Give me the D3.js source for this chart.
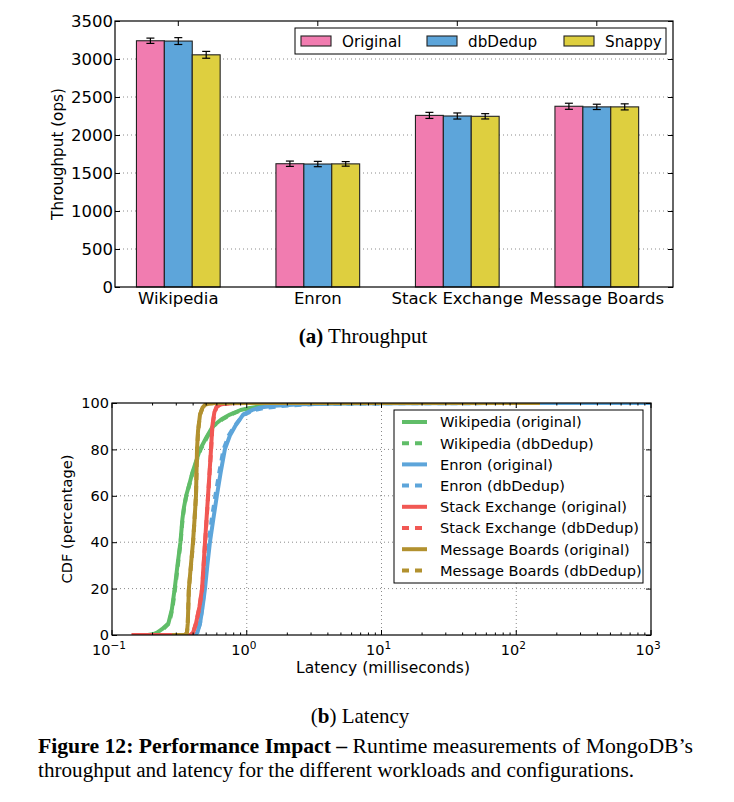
<!DOCTYPE html>
<html><head><meta charset="utf-8">
<script src="https://cdn.jsdelivr.net/npm/d3@7"></script>
<style>body{margin:0;background:#fff}svg{display:block}</style>
</head><body><svg id="c" width="734" height="802"></svg>
<script>
// ---------- (a) Throughput data ----------
const categories = ["Wikipedia", "Enron", "Stack Exchange", "Message Boards"];
const configs = ["Original", "dbDedup", "Snappy"];
const originalOps = [3240, 1622, 2258, 2378];
const dbdedupOps = [3236, 1618, 2250, 2370];
const snappyOps = [3055, 1620, 2246, 2370];
const originalErr = [35, 35, 40, 40];
const dbdedupErr = [45, 35, 40, 35];
const snappyErr = [45, 30, 35, 40];
const throughputTicks = [0, 500, 1000, 1500, 2000, 2500, 3000, 3500];
const barColors = ["#F17CB0", "#5DA5DA", "#DECF3F"];

// ---------- (b) Latency data ----------
const wikiOrigMs  = [0.16, 0.185, 0.205, 0.216, 0.235, 0.262, 0.278, 0.292, 0.306, 0.322, 0.333, 0.342, 0.355, 0.375, 0.395, 0.427, 0.45, 0.5, 0.56, 0.65, 0.75, 0.9, 1.09, 1.4, 1.8, 2.5, 4.2, 8, 30];
const wikiOrigCdf = [0, 0, 0.5, 1, 2.5, 5, 11, 20, 30, 40, 50, 55, 60, 65, 70, 76, 80, 85, 90, 93, 95, 97, 98, 98.8, 99.3, 99.7, 99.9, 100, 100];
const wikiDedupMs  = [0.16, 0.19, 0.21, 0.222, 0.24, 0.265, 0.28, 0.294, 0.308, 0.323, 0.334, 0.343, 0.356, 0.376, 0.397, 0.43, 0.455, 0.505, 0.565, 0.66, 0.76, 0.92, 1.1, 1.4, 1.8, 2.6, 4.5, 9, 30];
const wikiDedupCdf = [0, 0, 0.5, 1, 2.5, 5, 11, 20, 30, 40, 50, 55, 60, 65, 70, 76, 80, 85, 90, 93, 95, 97, 98, 98.8, 99.3, 99.7, 99.9, 100, 100];
const enronOrigMs  = [0.38, 0.41, 0.43, 0.45, 0.47, 0.49, 0.51, 0.533, 0.565, 0.6, 0.64, 0.688, 0.75, 0.82, 0.94, 1.1, 1.25, 1.6, 2.5, 5, 20, 100, 1000];
const enronOrigCdf = [0, 0, 1, 5, 12, 20, 30, 40, 50, 60, 70, 80, 86, 90, 95, 97, 98, 98.8, 99.5, 99.8, 99.9, 100, 100];
const enronDedupMs  = [0.38, 0.41, 0.43, 0.45, 0.468, 0.485, 0.503, 0.522, 0.55, 0.585, 0.625, 0.672, 0.735, 0.81, 0.95, 1.15, 1.4, 1.9, 3, 6, 25, 120, 1000];
const enronDedupCdf = [0, 0, 1, 5, 12, 20, 30, 40, 50, 60, 70, 80, 86, 90, 95, 97, 98, 98.8, 99.5, 99.8, 99.9, 100, 100];
const stackOrigMs  = [0.14, 0.38, 0.4, 0.42, 0.445, 0.466, 0.49, 0.516, 0.543, 0.555, 0.575, 0.6, 0.65, 0.75, 1.0, 2.0];
const stackOrigCdf = [0, 0, 1, 5, 12, 20, 40, 60, 80, 90, 96, 98.5, 99.5, 99.9, 100, 100];
const stackDedupMs  = [0.14, 0.38, 0.4, 0.42, 0.446, 0.467, 0.491, 0.517, 0.544, 0.556, 0.577, 0.6, 0.65, 0.75, 1.0, 2.0];
const stackDedupCdf = [0, 0, 1, 5, 12, 20, 40, 60, 80, 90, 96, 98.5, 99.5, 99.9, 100, 100];
const msgOrigMs  = [0.28, 0.35, 0.36, 0.365, 0.372, 0.385, 0.399, 0.41, 0.42, 0.4275, 0.435, 0.45, 0.47, 0.49, 0.52, 0.6, 1, 10, 150];
const msgOrigCdf = [0, 0, 1, 5, 20, 30, 40, 50, 60, 80, 88, 95, 98, 99.2, 99.8, 100, 100, 100, 100];
const msgDedupMs  = [0.28, 0.35, 0.36, 0.365, 0.372, 0.386, 0.4, 0.41, 0.42, 0.428, 0.436, 0.45, 0.47, 0.49, 0.52, 0.6, 1, 10, 150];
const msgDedupCdf = [0, 0, 1, 5, 20, 30, 40, 50, 60, 80, 88, 95, 98, 99.2, 99.8, 100, 100, 100, 100];
const latencyLabels = ["Wikipedia (original)", "Wikipedia (dbDedup)", "Enron (original)", "Enron (dbDedup)",
  "Stack Exchange (original)", "Stack Exchange (dbDedup)", "Message Boards (original)", "Message Boards (dbDedup)"];
const latencyColors = ["#60BD68", "#60BD68", "#5DA5DA", "#5DA5DA", "#F15854", "#F15854", "#B2912F", "#B2912F"];
const latencyDashed = [false, true, false, true, false, true, false, true];
const cdfTicks = [0, 20, 40, 60, 80, 100];
const latencyMajor = [0.1, 1, 10, 100, 1000];
const latencyExp = ["\u22121", "0", "1", "2", "3"];

const FONT = "DejaVu Sans, sans-serif";
const svg = d3.select("#c");
svg.append("rect").attr("width", 734).attr("height", 802).attr("fill", "#fff");

// =============== (a) Throughput ===============
{
  const X0 = 115, X1 = 673, Y0 = 21, Y1 = 287;
  const g = svg.append("g");
  const x = d3.scaleBand().domain(categories).range([108.55, 666.55]).paddingInner(0.4).paddingOuter(0.2);
  const xi = d3.scaleBand().domain(configs).range([0, x.bandwidth()]);
  const y = d3.scaleLinear().domain([0, 3500]).range([Y1, Y0]);

  g.append("g").selectAll("line").data(throughputTicks.filter(d => d > 0 && d < 3500)).join("line")
    .attr("x1", X0).attr("x2", X1).attr("y1", d => y(d)).attr("y2", d => y(d))
    .attr("stroke", "#8a8a8a").attr("stroke-width", 1).attr("stroke-dasharray", "1,3");

  const series = [originalOps, dbdedupOps, snappyOps];
  const errs = [originalErr, dbdedupErr, snappyErr];
  const rows = [];
  categories.forEach((c, i) => configs.forEach((k, j) => rows.push({c, k, j, v: series[j][i], e: errs[j][i]})));

  g.append("g").selectAll("rect").data(rows).join("rect")
    .attr("x", d => x(d.c) + xi(d.k)).attr("width", xi.bandwidth())
    .attr("y", d => y(d.v)).attr("height", d => y(0) - y(d.v))
    .attr("fill", d => barColors[d.j]).attr("stroke", "#222").attr("stroke-width", 1.1);

  const eb = g.append("g").selectAll("g").data(rows).join("g")
    .attr("transform", d => `translate(${x(d.c) + xi(d.k) + xi.bandwidth() / 2},0)`);
  eb.append("line").attr("y1", d => y(d.v - d.e)).attr("y2", d => y(d.v + d.e)).attr("stroke", "#000").attr("stroke-width", 1.2);
  eb.append("line").attr("x1", -4).attr("x2", 4).attr("y1", d => y(d.v - d.e)).attr("y2", d => y(d.v - d.e)).attr("stroke", "#000").attr("stroke-width", 1.2);
  eb.append("line").attr("x1", -4).attr("x2", 4).attr("y1", d => y(d.v + d.e)).attr("y2", d => y(d.v + d.e)).attr("stroke", "#000").attr("stroke-width", 1.2);

  const ax = g.append("g").attr("transform", `translate(${X0},0)`)
    .call(d3.axisLeft(y).tickValues(throughputTicks).tickFormat(d3.format("d")).tickSizeInner(-5).tickSizeOuter(0).tickPadding(2));
  const ar = g.append("g").attr("transform", `translate(${X1},0)`)
    .call(d3.axisRight(y).tickValues(throughputTicks).tickSizeInner(-5).tickSizeOuter(0).tickFormat(""));
  const at = g.append("g").attr("transform", `translate(0,${Y0})`)
    .call(d3.axisTop(x).tickSizeInner(-5).tickSizeOuter(0).tickFormat(""));
  const ab = g.append("g").attr("transform", `translate(0,${Y1})`)
    .call(d3.axisBottom(x).tickSize(0).tickPadding(5));
  [ax, ar, at, ab].forEach(a => {
    a.select(".domain").remove();
    a.selectAll("line").attr("stroke", "#000");
    a.selectAll("text").attr("font-family", FONT).attr("font-size", 16.5).attr("fill", "#000");
  });
  g.append("rect").attr("x", X0).attr("y", Y0).attr("width", X1 - X0).attr("height", Y1 - Y0)
    .attr("fill", "none").attr("stroke", "#000").attr("stroke-width", 1.2);

  g.append("text").attr("transform", "translate(63,154) rotate(-90)").attr("text-anchor", "middle")
    .attr("font-family", FONT).attr("font-size", 15.2).text("Throughput (ops)");

  const lg = g.append("g");
  lg.append("rect").attr("x", 295).attr("y", 28).attr("width", 371).attr("height", 26)
    .attr("fill", "#fff").attr("stroke", "#000").attr("stroke-width", 1);
  const lx = [301, 427, 564];
  configs.forEach((k, j) => {
    lg.append("rect").attr("x", lx[j]).attr("y", 36).attr("width", 30).attr("height", 10)
      .attr("fill", barColors[j]).attr("stroke", "#222").attr("stroke-width", 1.1);
    lg.append("text").attr("x", lx[j] + 41).attr("y", 46.5).attr("font-family", FONT)
      .attr("font-size", 15.2).text(k);
  });
}

// =============== (b) Latency ===============
{
  const X0 = 112, X1 = 651, Y0 = 403, Y1 = 635;
  const g = svg.append("g");
  const x = d3.scaleLog().domain([0.1, 1000]).range([X0, X1]);
  const y = d3.scaleLinear().domain([0, 100]).range([Y1, Y0]);
  const minor = [];
  latencyMajor.slice(0, -1).forEach(m => { for (let k = 2; k <= 9; k++) minor.push(m * k); });

  const grid = g.append("g").attr("stroke", "#8a8a8a").attr("stroke-width", 1).attr("stroke-dasharray", "1,3");
  grid.selectAll(".gx").data(latencyMajor.slice(1, -1)).join("line")
    .attr("x1", d => x(d)).attr("x2", d => x(d)).attr("y1", Y0).attr("y2", Y1);
  grid.selectAll(".gy").data(cdfTicks.slice(1, -1)).join("line")
    .attr("x1", X0).attr("x2", X1).attr("y1", d => y(d)).attr("y2", d => y(d));

  svg.append("defs").append("clipPath").attr("id", "clipb").append("rect")
    .attr("x", X0).attr("y", Y0).attr("width", X1 - X0).attr("height", Y1 - Y0);
  const xs = [wikiOrigMs, wikiDedupMs, enronOrigMs, enronDedupMs, stackOrigMs, stackDedupMs, msgOrigMs, msgDedupMs];
  const ys = [wikiOrigCdf, wikiDedupCdf, enronOrigCdf, enronDedupCdf, stackOrigCdf, stackDedupCdf, msgOrigCdf, msgDedupCdf];
  const line = d3.line().x(d => x(d[0])).y(d => y(d[1]));
  const cg = g.append("g").attr("clip-path", "url(#clipb)");
  xs.forEach((arr, i) => {
    const pts = arr.map((v, k) => [v, ys[i][k]]);
    cg.append("path").attr("d", line(pts)).attr("fill", "none")
      .attr("stroke", latencyColors[i]).attr("stroke-width", 4)
      .attr("stroke-linejoin", "round")
      .attr("stroke-dasharray", latencyDashed[i] ? "7,6" : null);
  });

  const tk = g.append("g").attr("stroke", "#000").attr("stroke-width", 1);
  latencyMajor.forEach(d => {
    tk.append("line").attr("x1", x(d)).attr("x2", x(d)).attr("y1", Y1).attr("y2", Y1 - 5);
    tk.append("line").attr("x1", x(d)).attr("x2", x(d)).attr("y1", Y0).attr("y2", Y0 + 5);
  });
  minor.forEach(d => {
    tk.append("line").attr("x1", x(d)).attr("x2", x(d)).attr("y1", Y1).attr("y2", Y1 - 2.5);
    tk.append("line").attr("x1", x(d)).attr("x2", x(d)).attr("y1", Y0).attr("y2", Y0 + 2.5);
  });
  const ay = g.append("g").attr("transform", `translate(${X0},0)`)
    .call(d3.axisLeft(y).tickValues(cdfTicks).tickSizeInner(-5).tickSizeOuter(0).tickPadding(3));
  const ayr = g.append("g").attr("transform", `translate(${X1},0)`)
    .call(d3.axisRight(y).tickValues(cdfTicks).tickSizeInner(-5).tickSizeOuter(0).tickFormat(""));
  [ay, ayr].forEach(a => {
    a.select(".domain").remove();
    a.selectAll("line").attr("stroke", "#000");
    a.selectAll("text").attr("font-family", FONT).attr("font-size", 14.5).attr("fill", "#000");
  });
  latencyMajor.forEach((d, i) => {
    const t = g.append("text").attr("x", x(d) - 3).attr("y", 655).attr("text-anchor", "middle")
      .attr("font-family", FONT).attr("font-size", 14.5);
    t.append("tspan").text("10");
    t.append("tspan").attr("dy", -6.5).attr("font-size", 10.5).text(latencyExp[i]);
  });

  g.append("rect").attr("x", X0).attr("y", Y0).attr("width", X1 - X0).attr("height", Y1 - Y0)
    .attr("fill", "none").attr("stroke", "#000").attr("stroke-width", 1.2);

  g.append("text").attr("transform", "translate(72,519) rotate(-90)").attr("text-anchor", "middle")
    .attr("font-family", FONT).attr("font-size", 14.6).text("CDF (percentage)");
  g.append("text").attr("x", 383).attr("y", 673).attr("text-anchor", "middle")
    .attr("font-family", FONT).attr("font-size", 15.5).text("Latency (milliseconds)");

  const lg = g.append("g");
  lg.append("rect").attr("x", 394).attr("y", 410).attr("width", 249).attr("height", 173)
    .attr("fill", "#fff").attr("stroke", "#000").attr("stroke-width", 1);
  latencyLabels.forEach((lab, i) => {
    const cy = 422 + i * 21.2;
    lg.append("line").attr("x1", 402).attr("x2", 427).attr("y1", cy).attr("y2", cy)
      .attr("stroke", latencyColors[i]).attr("stroke-width", 4)
      .attr("stroke-dasharray", latencyDashed[i] ? "7,6" : null);
    lg.append("text").attr("x", 440).attr("y", cy + 5.3).attr("font-family", FONT)
      .attr("font-size", 14.6).text(lab);
  });
}

// =============== captions ===============
const SERIF = "Liberation Serif, Times New Roman, serif";
{
  const t = svg.append("text").attr("x", 363).attr("y", 343).attr("text-anchor", "middle")
    .attr("font-family", SERIF).attr("font-size", 21);
  t.append("tspan").attr("font-weight", "bold").text("(a)");
  t.append("tspan").text(" Throughput");
  const t2 = svg.append("text").attr("x", 360).attr("y", 723).attr("text-anchor", "middle")
    .attr("font-family", SERIF).attr("font-size", 21);
  t2.append("tspan").text("(");
  t2.append("tspan").attr("font-weight", "bold").text("b");
  t2.append("tspan").text(") Latency");
  const c1 = svg.append("text").attr("x", 38).attr("y", 753).attr("font-family", SERIF).attr("font-size", 20)
    .attr("textLength", 655).attr("lengthAdjust", "spacingAndGlyphs");
  c1.append("tspan").attr("font-weight", "bold").text("Figure 12: Performance Impact \u2013");
  c1.append("tspan").text(" Runtime measurements of MongoDB\u2019s");
  svg.append("text").attr("x", 38).attr("y", 777).attr("font-family", SERIF).attr("font-size", 20)
    .attr("textLength", 596).attr("lengthAdjust", "spacingAndGlyphs")
    .text("throughput and latency for the different workloads and configurations.");
}
</script></body></html>
